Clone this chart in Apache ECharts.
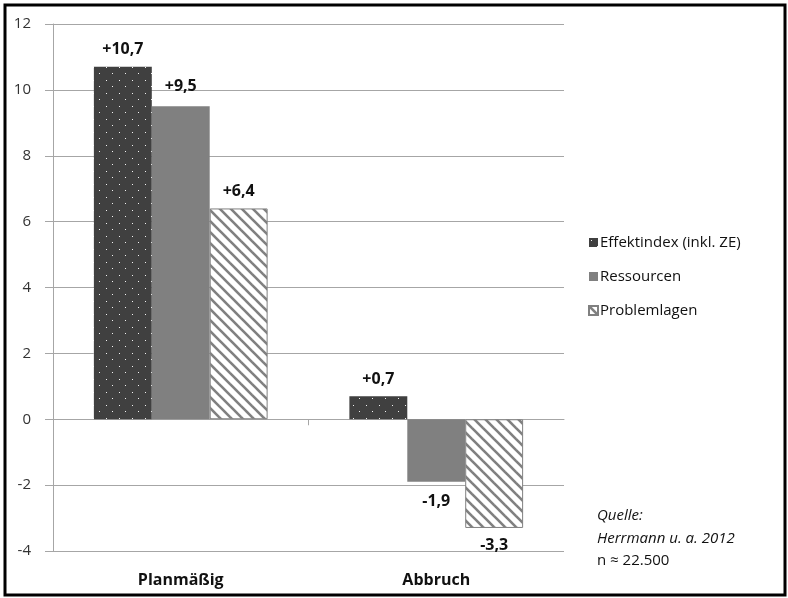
<!DOCTYPE html>
<html>
<head>
<meta charset="utf-8">
<script src="https://cdn.jsdelivr.net/npm/echarts@6/dist/echarts.min.js"></script>
<style>
  html, body { margin: 0; padding: 0; background: #fff; }
  #chart { width: 788px; height: 598px; }
</style>
</head>
<body>
<div id="chart"></div>
<script>
// Categories and values (Veränderung im Effektindex)
const categories = ['Planmäßig', 'Abbruch'];
const seriesNames = ['Effektindex (inkl. ZE)', 'Ressourcen', 'Problemlagen'];
const effektindex = [10.7, 0.7];
const ressourcen = [9.5, -1.9];
const problemlagen = [6.4, -3.3];
const yMin = -4, yMax = 12, yStep = 2;
const sourceLines = ['Quelle:', 'Herrmann u. a. 2012', 'n ≈ 22.500'];

const FONT = '"Open Sans", "DejaVu Sans", sans-serif';
const DARK = '#404040';
const MID = '#808080';
const AXIS = '#a6a6a6';

// Dotted fill: dark ground with small light dots in an offset grid
function dotPattern() {
  const c = document.createElement('canvas');
  c.width = 13; c.height = 13;
  const g = c.getContext('2d');
  g.fillStyle = DARK;
  g.fillRect(0, 0, 13, 13);
  g.fillStyle = '#f4f4f4';
  g.fillRect(2, 2, 1, 1);
  g.fillRect(8, 8, 1, 1);
  return c;
}

// Hatched fill: white ground with diagonal grey stripes (top-left to bottom-right)
function hatchPattern() {
  const s = 11;
  const c = document.createElement('canvas');
  c.width = s; c.height = s;
  const g = c.getContext('2d');
  g.fillStyle = '#ffffff';
  g.fillRect(0, 0, s, s);
  g.strokeStyle = MID;
  g.lineWidth = 2.6;
  for (let k = -1; k <= 1; k++) {
    g.beginPath();
    g.moveTo(k * s - 1, -1);
    g.lineTo(k * s + s + 1, s + 1);
    g.stroke();
  }
  return c;
}

function fmt(v) {
  const t = Math.abs(v).toFixed(1).replace('.', ',');
  return (v > 0 ? '+' : '-') + t;
}

function labelStyle(distance) {
  return {
    show: true,
    fontFamily: FONT,
    fontSize: 16,
    fontWeight: 'bold',
    color: '#111',
    formatter: p => fmt(p.value),
    position: 'top',
    distance: distance
  };
}

function barData(values) {
  return values.map(v => ({
    value: v,
    label: { position: v >= 0 ? 'top' : 'bottom' }
  }));
}

const chart = echarts.init(document.getElementById('chart'), null, { renderer: 'canvas' });

chart.setOption({
  backgroundColor: '#fff',
  animation: false,
  grid: { left: 53, right: 224, top: 24, bottom: 47 },
  legend: {
    orient: 'vertical',
    left: 588,
    top: 235,
    padding: 0,
    itemWidth: 9,
    itemHeight: 9,
    itemGap: 19,
    icon: 'rect',
    textStyle: { fontFamily: FONT, fontSize: 15, color: '#111', padding: [0, 0, 0, -3] },
    data: seriesNames
  },
  xAxis: [
    {
      type: 'category',
      data: categories,
      position: 'bottom',
      axisLine: { show: false, onZero: false },
      axisTick: { show: false },
      axisLabel: { margin: 21, fontFamily: FONT, fontSize: 16, fontWeight: 'bold', color: '#111' }
    },
    {
      // zero line with a single divider tick between the two groups
      type: 'value',
      min: 0,
      max: categories.length,
      position: 'bottom',
      splitLine: { show: false },
      axisLine: { show: true, onZero: true, lineStyle: { color: AXIS, width: 1 } },
      axisTick: { show: true, length: 6, lineStyle: { color: AXIS }, customValues: [1] },
      axisLabel: { show: false }
    }
  ],
  yAxis: {
    type: 'value',
    min: yMin,
    max: yMax,
    interval: yStep,
    axisLine: { show: true, lineStyle: { color: AXIS, width: 1 } },
    axisTick: { show: true, length: 8, lineStyle: { color: AXIS } },
    splitLine: { show: true, lineStyle: { color: AXIS, width: 1 } },
    axisLabel: { margin: 22, fontFamily: FONT, fontSize: 15, color: '#333' }
  },
  series: [
    {
      name: seriesNames[0],
      type: 'bar',
      xAxisIndex: 0,
      barGap: '0%',
      barCategoryGap: '32%',
      data: barData(effektindex),
      itemStyle: { color: { image: dotPattern(), repeat: 'repeat' } },
      label: labelStyle(9)
    },
    {
      name: seriesNames[1],
      type: 'bar',
      xAxisIndex: 0,
      barGap: '0%',
      barCategoryGap: '32%',
      data: barData(ressourcen),
      itemStyle: { color: MID },
      label: labelStyle(12)
    },
    {
      name: seriesNames[2],
      type: 'bar',
      xAxisIndex: 0,
      barGap: '0%',
      barCategoryGap: '32%',
      data: barData(problemlagen),
      itemStyle: { color: { image: hatchPattern(), repeat: 'repeat' }, borderColor: MID, borderWidth: 1 },
      label: labelStyle(9)
    }
  ],
  graphic: [
    {
      type: 'rect',
      shape: { x: 5, y: 5, width: 780, height: 590 },
      style: { fill: null, stroke: '#000', lineWidth: 3 },
      silent: true
    },
    {
      type: 'text', left: 597, top: 508,
      style: { text: sourceLines[0], fontFamily: FONT, fontSize: 15, fontStyle: 'italic', fill: '#111' }
    },
    {
      type: 'text', left: 597, top: 531,
      style: { text: sourceLines[1], fontFamily: FONT, fontSize: 15, fontStyle: 'italic', fill: '#111' }
    },
    {
      type: 'text', left: 597, top: 553,
      style: { text: sourceLines[2], fontFamily: FONT, fontSize: 15, fill: '#111' }
    }
  ]
});
</script>
</body>
</html>
